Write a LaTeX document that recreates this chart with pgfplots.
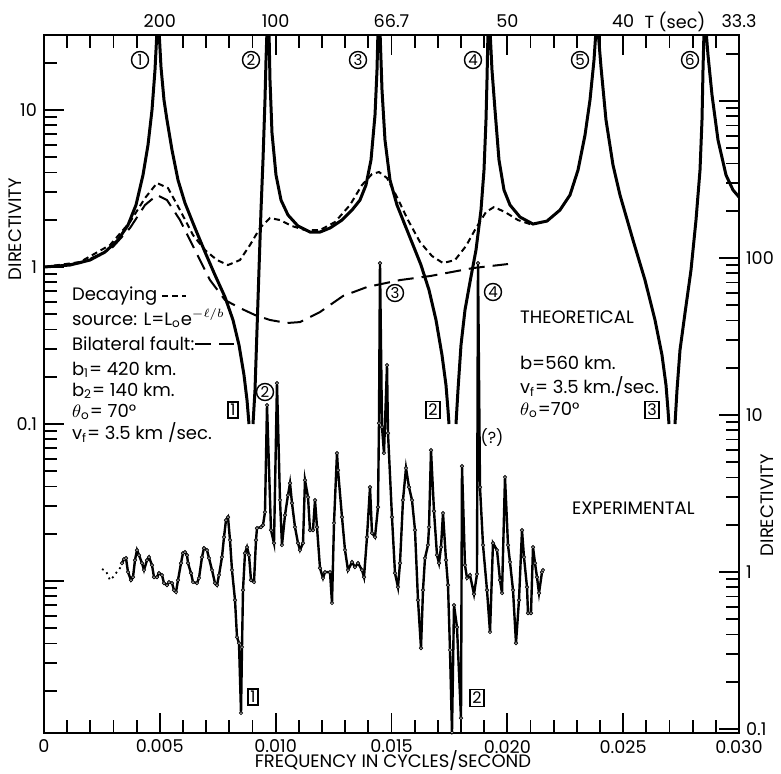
\documentclass[border=0pt]{standalone}
\usepackage{pgfplots}
\pgfplotsset{compat=1.18}
\usepackage{fontspec}
\setmainfont{Poppins}
\pgfplotsset{
  common/.style={
    at={(0pt,0pt)}, anchor=south west,
    scale only axis, width=347.5pt, height=349pt,
    xmin=0, xmax=0.03,
    /pgf/number format/assume math mode=true,
    major tick length=10pt, minor tick length=6.5pt,
    axis line style={line width=1.4pt},
    tick style={black, line width=0.9pt},
    tick label style={font=\fontsize{8.8}{10}\selectfont},
    minor x tick num=4,
    xtick={0,0.005,0.01,0.015,0.02,0.025,0.03},
    scaled x ticks=false,
  }
}
\tikzset{
  cn/.style={circle, draw, line width=0.7pt, inner sep=0.4pt, minimum size=8.5pt, font=\fontsize{7.5}{8}\selectfont},
  bx/.style={draw, line width=0.7pt, inner sep=1.2pt, font=\fontsize{8}{9}\selectfont},
}
\begin{document}
\begin{tikzpicture}[font=\fontsize{9}{10}\selectfont]
\useasboundingbox (-22pt,-20pt) rectangle (368.5pt,366.5pt);
% ---------- theoretical (left scale) ----------
\begin{axis}[ymode=log, common, ymin=0.001076, ymax=30.06,
  xtick pos=left, xticklabel pos=left,
  xticklabels={0,0.005,0.010,0.015,0.020,0.025,0.030},
  ytick={0.01,0.1,1,10}, yticklabels={,0.1,1,10},
  minor ytick={0.002,0.003,0.004,0.005,0.006,0.007,0.008,0.009,0.02,0.03,0.04,0.05,0.06,0.07,0.08,0.09,0.2,0.3,0.4,0.5,0.6,0.7,0.8,0.9,2,3,4,5,6,7,8,9,20},
  ytick pos=left, yticklabel pos=left]
\addplot[black, line width=1.5pt] coordinates {(0,1) (0.001122,1.03) (0.001986,1.108) (0.002633,1.246) (0.003194,1.486) (0.003626,1.851) (0.003971,2.483) (0.004273,3.855) (0.004489,5.985) (0.004662,10.0) (0.004791,17.98) (0.004878,32.3) (0.004964,32.3) (0.005050,18.8) (0.005180,11.58) (0.005309,8.64) (0.005525,5.56) (0.005784,3.582) (0.006086,2.556) (0.006518,1.772) (0.006950,1.246) (0.007381,0.889) (0.007813,0.644) (0.008158,0.460) (0.008417,0.3186) (0.008633,0.205) (0.008763,0.1422) (0.008849,0.1)};
\addplot[black, line width=1.5pt] coordinates {(0.009022,0.1) (0.009108,0.1647) (0.009194,0.397) (0.009280,0.957) (0.009367,2.307) (0.009453,4.80) (0.009539,11.58) (0.009583,20.8) (0.009626,32.3) (0.009712,32.3) (0.009755,15.5) (0.009842,7.14) (0.010014,3.855) (0.010230,2.671) (0.010532,2.144) (0.010964,1.825) (0.011482,1.671) (0.011914,1.671) (0.012345,1.772) (0.012863,1.992) (0.013295,2.307) (0.013640,2.671) (0.013899,3.329) (0.014115,4.80) (0.014288,9.29) (0.014374,17.98) (0.014417,32.3) (0.014503,32.3) (0.014590,13.41) (0.014719,6.44) (0.014935,3.582) (0.015237,2.483) (0.015582,1.851) (0.015928,1.381) (0.016273,1.03) (0.016619,0.714) (0.016921,0.460) (0.017180,0.275) (0.017352,0.177) (0.017439,0.1228) (0.017482,0.1)};
\addplot[black, line width=1.5pt] coordinates {(0.017784,0.1) (0.017870,0.1647) (0.018000,0.3186) (0.018172,0.532) (0.018388,0.8025) (0.018647,1.283) (0.018863,2.307) (0.018993,4.148) (0.019079,8.64) (0.019122,15.5) (0.019166,32.3) (0.019252,32.3) (0.019338,17.98) (0.019468,10.0) (0.019640,4.80) (0.019856,3.094) (0.020115,2.483) (0.020547,2.082) (0.021108,1.879) (0.021712,1.963) (0.022273,2.307) (0.022705,2.875) (0.023051,4.148) (0.023353,6.93) (0.023568,11.58) (0.023741,20.8) (0.023827,32.3) (0.023914,32.3) (0.024043,18.8) (0.024259,8.64) (0.024561,4.464) (0.024863,2.875) (0.025424,1.486) (0.025942,0.826) (0.026374,0.460) (0.026676,0.275) (0.026849,0.177) (0.026935,0.1228) (0.026978,0.1)};
\addplot[black, line width=1.5pt] coordinates {(0.027237,0.1) (0.027324,0.1647) (0.027453,0.296) (0.027669,0.509) (0.027928,0.957) (0.028144,1.992) (0.028317,4.148) (0.028403,8.64) (0.028446,17.98) (0.028490,32.3) (0.028576,32.3) (0.028662,22.4) (0.028835,12.46) (0.029094,6.44) (0.029439,3.855) (0.029741,3.094) (0.030000,2.792)};
% decaying source (short dash)
\addplot[black, line width=1pt, dash pattern=on 3pt off 2pt] coordinates {(0,1) (0.001554,1.076) (0.002849,1.381) (0.003712,1.935) (0.004360,2.751) (0.004878,3.428) (0.005352,3.185) (0.005870,2.307) (0.006432,1.599) (0.006950,1.283) (0.007468,1.108) (0.007942,1.03) (0.008460,1.108) (0.008892,1.381) (0.009324,1.772) (0.009755,2.052) (0.010187,1.992) (0.010705,1.825) (0.011266,1.720) (0.011914,1.720) (0.012561,1.935) (0.013208,2.483) (0.013726,3.329) (0.014158,3.911) (0.014460,4.03) (0.014806,3.689) (0.015194,2.875) (0.015712,1.992) (0.016230,1.443) (0.016748,1.175) (0.017223,1.06) (0.017741,1.108) (0.018216,1.361) (0.018647,1.772) (0.019079,2.240) (0.019424,2.411) (0.019899,2.240) (0.020460,1.992) (0.021108,1.851)};
% bilateral fault (long dash)
\addplot[black, line width=1pt, dash pattern=on 8pt off 4pt] coordinates {(0,1) (0.001554,1.06) (0.002849,1.283) (0.003712,1.772) (0.004360,2.483) (0.004878,2.875) (0.005309,2.671) (0.005870,1.992) (0.006518,1.283) (0.007166,0.826) (0.007813,0.616) (0.008460,0.548) (0.009108,0.4946) (0.009755,0.460) (0.010489,0.440) (0.011050,0.446) (0.011914,0.517) (0.012907,0.654) (0.013942,0.746) (0.015367,0.826) (0.016662,0.876) (0.018518,0.985) (0.020029,1.045)};
\end{axis}
% ---------- experimental (right scale) ----------
\begin{axis}[ymode=log, common, ymin=0.0944, ymax=2636,
  xtick pos=right, xticklabel pos=right,
  xticklabels={,200,100,66.7,50,40,33.3},
  ytick={0.1,1,10,100,1000}, yticklabels={0.1,1,10,100,},
  minor ytick={0.2,0.3,0.4,0.5,0.6,0.7,0.8,0.9,2,3,4,5,6,7,8,9,20,30,40,50,60,70,80,90,200,300,400,500,600,700,800,900,2000},
  ytick pos=right, yticklabel pos=right]
\addplot[black, line width=0.9pt, dotted] coordinates {(0.002504,1.045) (0.002676,1.015) (0.002849,0.889) (0.002978,0.929) (0.003108,0.985) (0.003281,1.06) (0.003367,1.141)};
\addplot[black, line width=1.2pt, mark=*, mark size=0.8pt, mark options={fill=white, line width=0.4pt, solid}] coordinates {
(0.003367,1.141) (0.003453,1.21) (0.003540,1.228) (0.003626,1.0) (0.003755,0.889) (0.003842,0.929) (0.003928,1.192) (0.004014,1.381) (0.004101,1.283) (0.004230,1.141) (0.004317,1.03) (0.004446,1.192) (0.004532,1.246) (0.004662,1.108) (0.004748,0.929) (0.004878,0.929) (0.004964,0.985) (0.005093,0.957) (0.005180,0.851) (0.005309,0.826) (0.005396,0.864) (0.005525,0.851) (0.005611,0.768) (0.005698,0.746) (0.005784,0.889) (0.005914,1.141) (0.006000,1.321) (0.006086,1.341) (0.006173,1.283) (0.006216,1.141) (0.006345,0.985) (0.006432,0.864) (0.006604,0.851) (0.006691,0.916) (0.006820,1.246) (0.006906,1.422) (0.007036,1.381) (0.007122,1.228) (0.007252,1.03) (0.007381,0.851) (0.007468,0.826) (0.007554,0.957) (0.007683,1.246) (0.007770,1.671) (0.007856,2.144) (0.007942,2.240) (0.008029,1.599) (0.008115,1.03) (0.008245,0.663) (0.008331,0.385) (0.008417,0.353) (0.008504,0.1265) (0.008547,0.333) (0.008590,0.768) (0.008676,1.321) (0.008763,1.443) (0.008849,1.283) (0.008935,0.889) (0.009065,0.864) (0.009151,1.599) (0.009194,1.907) (0.009367,1.935) (0.009453,1.992) (0.009539,2.411) (0.009626,11.58) (0.009798,1.851) (0.009928,1.530) (0.010057,15.99) (0.010187,2.875) (0.010273,1.486) (0.010403,2.307) (0.010532,3.094) (0.010619,3.689) (0.010705,2.751) (0.010834,1.935) (0.010964,1.530) (0.011050,1.381) (0.011180,1.530) (0.011266,3.855) (0.011396,3.004) (0.011482,1.851) (0.011611,1.851) (0.011698,2.875) (0.011784,1.935) (0.011914,1.06) (0.012043,0.916) (0.012129,1.0) (0.012345,1.0) (0.012432,0.635) (0.012518,2.052) (0.012647,5.728) (0.012691,4.464) (0.012863,2.240) (0.012993,1.381) (0.013122,1.03) (0.013295,1.158) (0.013424,1.076) (0.013554,1.141) (0.013726,1.03) (0.013813,0.929) (0.013942,1.671) (0.014072,3.478) (0.014158,1.772) (0.014288,1.671) (0.014417,2.594) (0.014460,8.893) (0.014503,92.9) (0.014590,8.386) (0.014676,5.728) (0.014806,20.82) (0.014849,7.680) (0.015021,2.240) (0.015151,0.985) (0.015280,0.8025) (0.015367,1.141) (0.015496,2.875) (0.015626,4.598) (0.015755,3.478) (0.015885,2.875) (0.016014,1.851) (0.016144,0.663) (0.016273,0.328) (0.016360,0.768) (0.016446,1.228) (0.016575,1.486) (0.016619,1.935) (0.016705,5.985) (0.016834,2.446) (0.016964,1.283) (0.017050,1.141) (0.017137,1.443) (0.017223,2.376) (0.017352,1.192) (0.017439,0.826) (0.017525,0.319) (0.017611,0.095) (0.017698,0.616) (0.017827,0.446) (0.018000,0.1175) (0.018043,4.733) (0.018172,1.108) (0.018259,0.916) (0.018388,0.957) (0.018561,0.724) (0.018690,0.971) (0.018734,92.9) (0.018820,3.478) (0.018950,1.486) (0.019122,0.768) (0.019252,0.415) (0.019381,1.530) (0.019554,1.381) (0.019683,0.889) (0.019770,0.735) (0.019899,4.03) (0.020029,1.486) (0.020115,1.158) (0.020245,0.768) (0.020374,0.353) (0.020503,0.663) (0.020633,1.851) (0.020719,1.246) (0.020849,0.802) (0.020892,0.548) (0.021021,0.548) (0.021108,1.443) (0.021194,1.141) (0.021280,0.929) (0.021367,0.735) (0.021496,1.0) (0.021539,1.03)};
\end{axis}
% ---------- annotations ----------
\node[rotate=90] at (-14.5pt,252pt) {DIRECTIVITY};
\node[rotate=90] at (361.5pt,114pt) {DIRECTIVITY};
\node at (174.5pt,-14pt) {FREQUENCY IN CYCLES/SECOND};
\node[font=\fontsize{8.8}{10}\selectfont] at (315.5pt,355.5pt) {T (sec)};
% circled peak numbers
\node[cn] at (48pt,336.5pt) {1};
\node[cn] at (103.5pt,336.5pt) {2};
\node[cn] at (157pt,336.5pt) {3};
\node[cn] at (214.5pt,336.5pt) {4};
\node[cn] at (268pt,336.5pt) {5};
\node[cn] at (323pt,336.5pt) {6};
\node[cn] at (110.5pt,170.5pt) {2};
\node[cn] at (175.5pt,220pt) {3};
\node[cn] at (224.5pt,220.5pt) {4};
% boxed numbers
\node[bx] at (94.5pt,161.5pt) {1};
\node[bx] at (194.5pt,161.5pt) {2};
\node[bx] at (304pt,161.5pt) {3};
\node[bx] at (104.5pt,18pt) {1};
\node[bx] at (216.5pt,17.5pt) {2};
\node[font=\fontsize{8}{9}\selectfont] at (224pt,147.5pt) {(?)};
% left legend block
\node[anchor=west] at (10.5pt,218.5pt) {Decaying};
\draw[line width=0.9pt, dash pattern=on 3pt off 2pt] (59pt,218.5pt) -- (71pt,218.5pt);
\node[anchor=west] at (10.5pt,207.5pt) {source: L=L\textsubscript{o}e\textsuperscript{$-\ell/b$}};
\node[anchor=west] at (10.5pt,194.5pt) {Bilateral fault:};
\draw[line width=0.9pt, dash pattern=on 8pt off 4pt] (75.5pt,194.5pt) -- (95pt,194.5pt);
\node[anchor=west] at (10.5pt,181.5pt) {b\textsubscript{1}= 420 km.};
\node[anchor=west] at (10.5pt,171pt) {b\textsubscript{2}= 140 km.};
\node[anchor=west] at (10.5pt,160.5pt) {$\theta$\textsubscript{o}= 70°};
\node[anchor=west] at (10.5pt,150pt) {v\textsubscript{f}= 3.5 km /sec.};
% right text block
\node[anchor=west] at (234.5pt,208pt) {THEORETICAL};
\node[anchor=west] at (234.5pt,185pt) {b=560 km.};
\node[anchor=west] at (234.5pt,173pt) {v\textsubscript{f}= 3.5 km./sec.};
\node[anchor=west] at (234.5pt,161.5pt) {$\theta$\textsubscript{o}=70°};
\node[anchor=west] at (260.5pt,112.5pt) {EXPERIMENTAL};
\end{tikzpicture}
\end{document}
